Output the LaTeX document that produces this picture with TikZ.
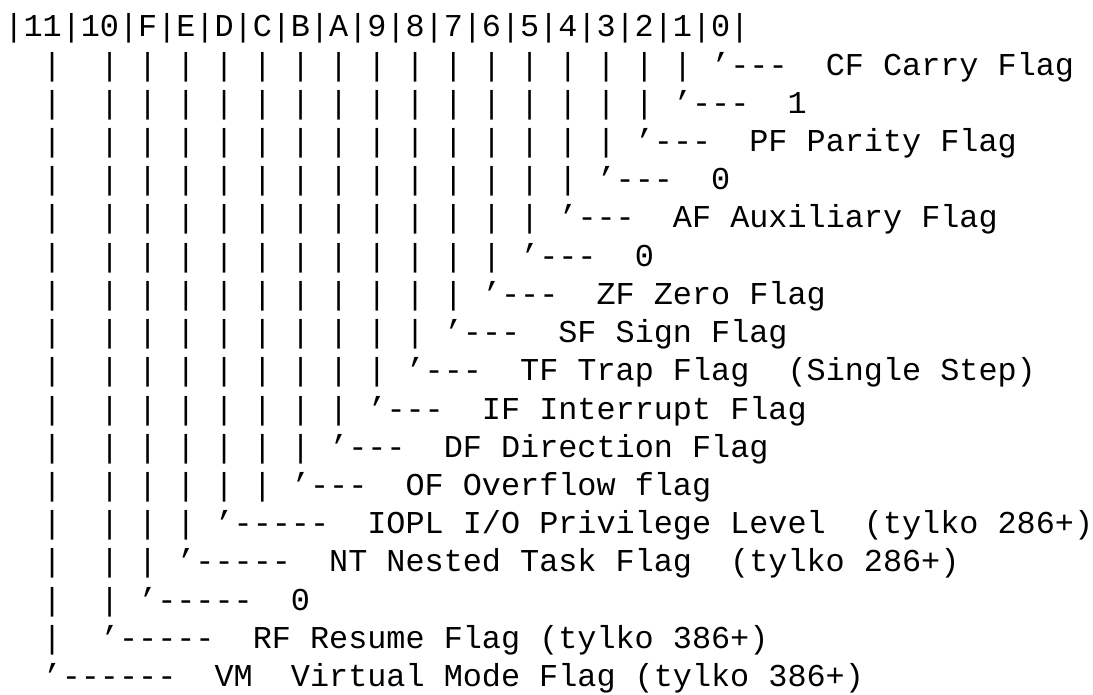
\documentclass[tikz,border=0pt]{standalone}
\usepackage{fontspec}
\setmonofont{Liberation Mono}
\begin{document}
\begin{tikzpicture}[x=1pt,y=1pt,
  txt/.style={font=\ttfamily\fontsize{31.83pt}{38pt}\selectfont, inner sep=0pt, outer sep=0pt, anchor=base west, text=black},
  barch/.style={txt}]
\useasboundingbox[fill=white] (0,0) rectangle (1093,-695);
\def\cw{19.1}
\def\lh{38.2}
\def\yo{37}
% header row
\node[txt] (hdr) at (4.5,{-\yo}) {|11|10|F|E|D|C|B|A|9|8|7|6|5|4|3|2|1|0|};
% label rows: row / quote column / text
\foreach \r/\q/\t in {
  1/37/{’---~~CF Carry Flag},
  2/35/{’---~~1},
  3/33/{’---~~PF Parity Flag},
  4/31/{’---~~0},
  5/29/{’---~~AF Auxiliary Flag},
  6/27/{’---~~0},
  7/25/{’---~~ZF Zero Flag},
  8/23/{’---~~SF Sign Flag},
  9/21/{’---~~TF Trap Flag~~(Single Step)},
  10/19/{’---~~IF Interrupt Flag},
  11/17/{’---~~DF Direction Flag},
  12/15/{’---~~OF Overflow flag},
  13/11/{’-----~~IOPL I/O Privilege Level~~(tylko 286+)},
  14/9/{’-----~~NT Nested Task Flag~~(tylko 286+)},
  15/7/{’-----~~0},
  16/5/{’-----~~RF Resume Flag (tylko 386+)},
  17/2/{’------~~VM~~Virtual Mode Flag (tylko 386+)}}
{
  \node[txt] (lab\r) at ({4.5+\cw*\q},{-\yo-\lh*\r}) {\t};
  % vertical bars to the left of the quote
  \foreach \c in {2,5,7,9,...,35} {
    \pgfmathtruncatemacro{\ok}{\c<\q ? 1 : 0}
    \ifnum\ok=1
      \node[barch] (b\r-\c) at ({4.5+\cw*\c},{-\yo-\lh*\r}) {|};
    \fi
  }
}
\end{tikzpicture}
\end{document}
